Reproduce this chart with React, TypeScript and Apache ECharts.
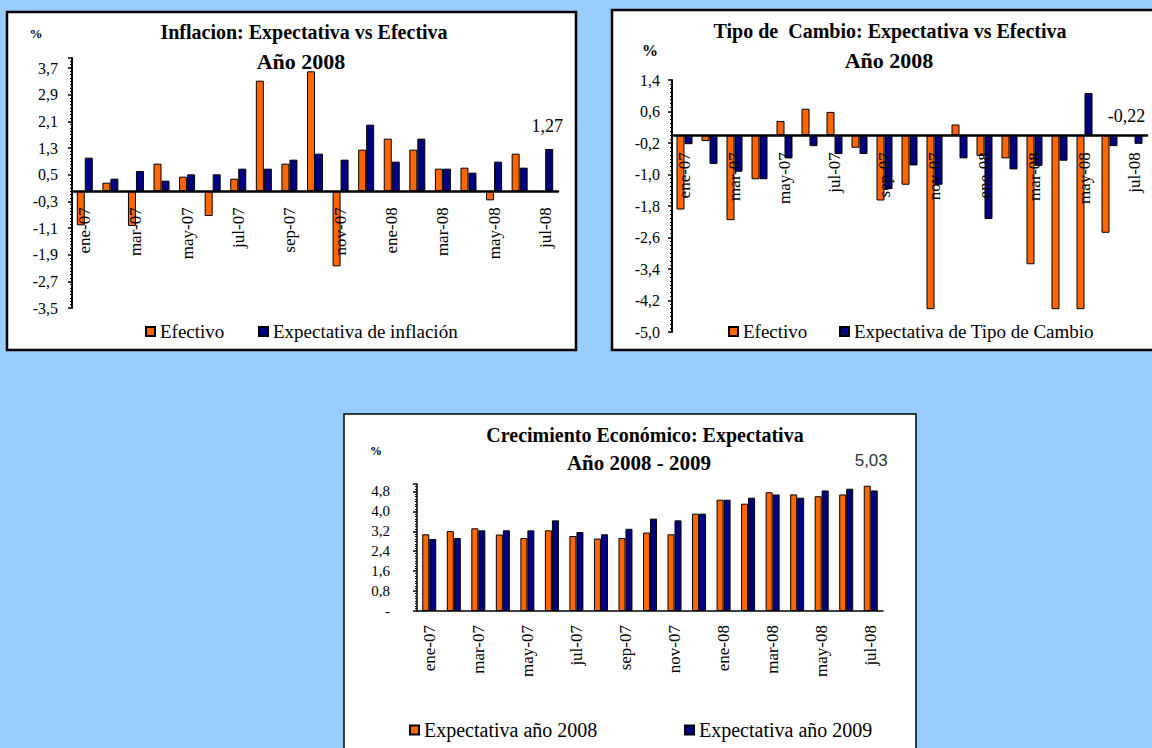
import React, { useEffect, useRef } from 'react';
import * as echarts from 'echarts';

const months = ['ene-07', 'feb-07', 'mar-07', 'abr-07', 'may-07', 'jun-07', 'jul-07', 'ago-07', 'sep-07', 'oct-07', 'nov-07', 'dic-07', 'ene-08', 'feb-08', 'mar-08', 'abr-08', 'may-08', 'jun-08', 'jul-08'];

// Panel 1: Inflación
const inflEfectivo = [-1.02, 0.26, -1.04, 0.83, 0.44, -0.74, 0.38, 3.32, 0.83, 3.6, -2.25, 1.25, 1.58, 1.25, 0.68, 0.71, -0.27, 1.13, null];
const inflExpectativa = [1.01, 0.38, 0.61, 0.32, 0.51, 0.51, 0.68, 0.68, 0.95, 1.13, 0.95, 2.0, 0.89, 1.58, 0.68, 0.56, 0.89, 0.71, 1.27];

// Panel 2: Tipo de Cambio
const tcEfectivo = [-1.89, -0.15, -2.16, -1.12, 0.36, 0.67, 0.59, -0.32, -1.66, -1.26, -4.42, 0.27, -0.53, -0.59, -3.28, -4.42, -4.42, -2.48, null];
const tcExpectativa = [-0.23, -0.73, -0.93, -1.12, -0.59, -0.28, -0.48, -0.48, -1.37, -0.77, -1.26, -0.59, -2.13, -0.87, -0.78, -0.65, 1.07, -0.28, -0.22];

// Panel 3: Crecimiento Económico
const crec2008 = [3.08, 3.21, 3.32, 3.07, 2.93, 3.24, 3.01, 2.91, 2.93, 3.15, 3.08, 3.91, 4.47, 4.31, 4.77, 4.68, 4.61, 4.68, 5.03];
const crec2009 = [2.89, 2.93, 3.24, 3.24, 3.24, 3.64, 3.17, 3.08, 3.3, 3.71, 3.64, 3.91, 4.47, 4.55, 4.68, 4.55, 4.84, 4.91, 4.84];

const SERIF = "'Liberation Serif', 'Times New Roman', serif";
const SANS = "'Liberation Sans', Arial, sans-serif";
const ORANGE = '#FF6600';
const NAVY = '#000080';

const fmt1 = (v: number) => (Math.round(v * 10) / 10).toFixed(1).replace('.', ',');
const fmt2 = (v: number) => v.toFixed(2).replace('.', ',');

export default function App() {
  const ref = useRef<HTMLDivElement>(null);

  useEffect(() => {
    const chart = echarts.init(ref.current!, null, { renderer: 'svg' });

    const barItem = (c: string) => ({ color: c, borderColor: '#000', borderWidth: 1 });

    const grids = [
      { left: 72, top: 58, width: 486, height: 250, min: -3.5, max: 4.0 },
      { left: 672, top: 80, width: 475, height: 252, min: -5.0, max: 1.4 },
      { left: 417, top: 484, width: 466, height: 127, min: 0, max: 5.1 },
    ];
    // offset from grid bottom up to the zero line
    const zeroOffset = (g: any) => -(g.height * (0 - g.min)) / (g.max - g.min);

    const catAxis = (gi: number, margin: number, fontSize: number, lw: number) => ({
      type: 'category',
      gridIndex: gi,
      data: months,
      z: 10,
      offset: zeroOffset(grids[gi]),
      axisLine: { onZero: false, lineStyle: { color: '#000', width: lw } },
      axisTick: { interval: 1, length: 4, lineStyle: { color: '#000', width: 1.5 } },
      axisLabel: { interval: 1, rotate: 90, margin, fontFamily: SERIF, fontSize, color: '#000' },
      splitLine: { show: false },
    });

    const valAxis = (gi: number, margin: number, fontSize: number, lw: number, showMax: boolean, zeroDash = false) => ({
      type: 'value',
      gridIndex: gi,
      min: grids[gi].min,
      max: grids[gi].max,
      interval: 0.8,
      axisLine: { show: true, lineStyle: { color: '#000', width: lw } },
      axisTick: { show: true, length: 4, lineStyle: { color: '#000', width: 1.5 } },
      minorTick: { show: true, splitNumber: 8, length: 2, lineStyle: { color: '#000' } },
      splitLine: { show: false },
      minorSplitLine: { show: false },
      axisLabel: {
        showMaxLabel: showMax,
        margin,
        fontFamily: SERIF,
        fontSize,
        color: '#000',
        formatter: (v: number) => (zeroDash && Math.abs(v) < 1e-9 ? '-' : fmt1(v)),
      },
    });

    const legend = (name: string, left: number, top: number, fontSize = 19) => ({
      data: [name],
      left,
      top,
      padding: 0,
      icon: 'rect',
      itemWidth: 9,
      itemHeight: 9,
      selectedMode: false,
      textStyle: { fontFamily: SERIF, fontSize, color: '#000' },
    });

    const txt = (text: string, x: number, y: number, font: string, fill = '#000', align = 'center') => ({
      type: 'text',
      x,
      y,
      z: 100,
      style: { text, font, fill, textAlign: align, textVerticalAlign: 'middle' },
    });

    const lastIdx = months.length - 1;

    const option = {
      animation: false,
      backgroundColor: '#99CCFF',
      graphic: [
        { type: 'rect', z: -10, shape: { x: 7, y: 12, width: 569, height: 338 }, style: { fill: '#fff', stroke: '#000', lineWidth: 2.5 } },
        { type: 'rect', z: -10, shape: { x: 612, y: 10, width: 560, height: 340 }, style: { fill: '#fff', stroke: '#000', lineWidth: 2.5 } },
        { type: 'rect', z: -10, shape: { x: 344, y: 414, width: 572, height: 360 }, style: { fill: '#fff', stroke: '#000', lineWidth: 1.5 } },
        txt('Inflacion: Expectativa vs Efectiva', 304, 32, `bold 20px ${SERIF}`),
        txt('Año 2008', 301, 61, `bold 22px ${SERIF}`),
        txt('%', 36, 33, `bold 13px ${SERIF}`),
        txt('Tipo de  Cambio: Expectativa vs Efectiva', 890, 31, `bold 20px ${SERIF}`),
        txt('Año 2008', 889, 60, `bold 22px ${SERIF}`),
        txt('%', 650, 50, `bold 16px ${SERIF}`),
        txt('Crecimiento Económico: Expectativa', 645, 435, `bold 20px ${SERIF}`),
        txt('Año 2008 - 2009', 639, 463, `bold 21px ${SERIF}`),
        txt('%', 376, 451, `bold 12px ${SERIF}`),
      ],
      legend: [
        legend('Efectivo', 145, 322),
        legend('Expectativa de inflación', 258, 322),
        legend('Efectivo', 728, 322),
        legend('Expectativa de Tipo de Cambio', 839, 322),
        legend('Expectativa año 2008', 409, 720, 20),
        legend('Expectativa año 2009', 684, 720, 20),
      ],
      grid: grids.map((g) => ({ left: g.left, top: g.top, width: g.width, height: g.height })),
      xAxis: [catAxis(0, 16, 17, 2.5), catAxis(1, 17, 17, 2.5), catAxis(2, 14, 17, 1.5)],
      yAxis: [
        valAxis(0, 14, 16, 2, false),
        valAxis(1, 12, 16, 2, true),
        valAxis(2, 27, 15, 1.5, false, true),
      ],
      series: [
        {
          type: 'bar', name: 'Efectivo', xAxisIndex: 0, yAxisIndex: 0,
          data: inflEfectivo, barWidth: 8, barGap: '0%', itemStyle: barItem(ORANGE),
        },
        {
          type: 'bar', name: 'Expectativa de inflación', xAxisIndex: 0, yAxisIndex: 0,
          data: inflExpectativa.map((v, i) =>
            i === lastIdx
              ? { value: v, label: { show: true, position: 'top', distance: 14, offset: [-2, 0], formatter: (p: any) => fmt2(p.value), fontFamily: SERIF, fontSize: 18, color: '#000' } }
              : v
          ),
          barWidth: 8, barGap: '0%', itemStyle: barItem(NAVY),
        },
        {
          type: 'bar', name: 'Efectivo', xAxisIndex: 1, yAxisIndex: 1,
          data: tcEfectivo, barWidth: 8, barGap: '0%', itemStyle: barItem(ORANGE),
        },
        {
          type: 'bar', name: 'Expectativa de Tipo de Cambio', xAxisIndex: 1, yAxisIndex: 1,
          data: tcExpectativa.map((v, i) =>
            i === lastIdx
              ? { value: v, label: { show: true, position: 'top', distance: 10, offset: [-12, 0], formatter: (p: any) => fmt2(p.value), fontFamily: SERIF, fontSize: 18, color: '#000' } }
              : v
          ),
          barWidth: 8, barGap: '0%', itemStyle: barItem(NAVY),
        },
        {
          type: 'bar', name: 'Expectativa año 2008', xAxisIndex: 2, yAxisIndex: 2,
          data: crec2008.map((v, i) =>
            i === lastIdx
              ? { value: v, label: { show: true, position: 'top', distance: 17, offset: [4, 0], formatter: (p: any) => fmt2(p.value), fontFamily: SANS, fontSize: 17, color: '#333' } }
              : v
          ),
          barWidth: 7, barGap: '0%', itemStyle: barItem(ORANGE),
        },
        {
          type: 'bar', name: 'Expectativa año 2009', xAxisIndex: 2, yAxisIndex: 2,
          data: crec2009, barWidth: 7, barGap: '0%', itemStyle: barItem(NAVY),
        },
      ],
    };

    chart.setOption(option as any);
    return () => chart.dispose();
  }, []);

  return (
    <div
      ref={ref}
      style={{ position: 'absolute', left: 0, top: 0, width: 1152, height: 748 }}
    />
  );
}
